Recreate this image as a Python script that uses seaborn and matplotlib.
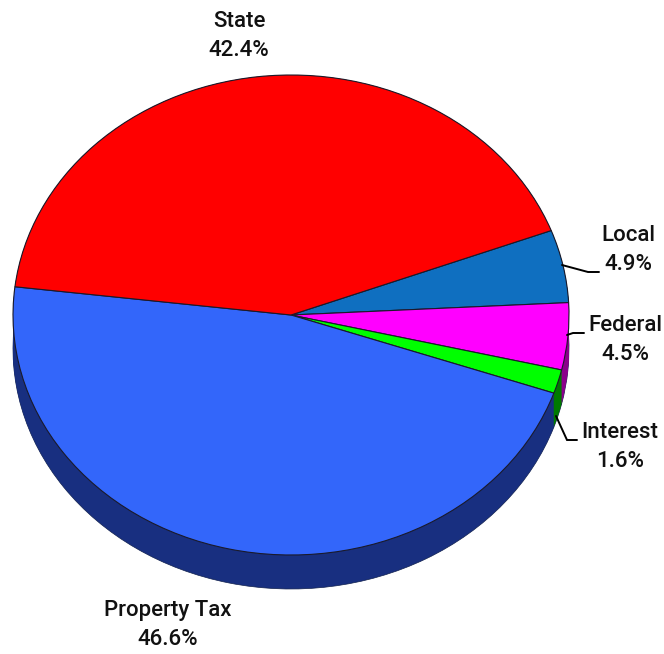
import numpy as np
import matplotlib
matplotlib.use("Agg")
import matplotlib.pyplot as plt
import seaborn as sns

# clockwise from the State / Local boundary
labels = ["Local", "Federal", "Interest", "Property Tax", "State"]
shares = [4.9, 4.5, 1.6, 46.6, 42.4]
top_colors = ["#0f6fc0", "#ff00ff", "#00ff00", "#3366fa", "#ff0000"]
side_colors = ["#0a4a80", "#8b008b", "#007a00", "#182f80", "#a00000"]

W, H = 664, 654
CX, CY = 291, 315    # centre of the top face, in pixels
RX, RY = 278, 240    # semi axes of the top face
DEPTH = 34

sns.set_theme(style="white")
plt.rcParams["font.family"] = ["Roboto", "DejaVu Sans"]

fig = plt.figure(figsize=(W / 100, H / 100), dpi=100)
ax = fig.add_axes([0, 0, 1, 1])


def px(x, y):
    return x / W, 1 - y / H


# side of the pie: the same pie stacked downwards
offsets = np.linspace(DEPTH / RY, 0, 36)
for i, off in enumerate(offsets):
    edge = {"edgecolor": "#10204d", "linewidth": 0.5} if i == 0 else {"linewidth": 0}
    ax.pie(shares, colors=side_colors, startangle=20.6, counterclock=False,
           center=(0, -off), radius=1, wedgeprops=edge)

ax.pie(shares, colors=top_colors, startangle=20.6, counterclock=False,
       center=(0, 0), radius=1,
       wedgeprops={"edgecolor": "#1a1a2a", "linewidth": 0.8})

# stretch the axes so the pie reads as a tilted ellipse
ax.set_aspect("auto")
ax.set_xlim(-CX / RX, (W - CX) / RX)
ax.set_ylim(-(H - CY) / RY, CY / RY)
ax.axis("off")

label_pos = [(628, 250), (625, 340), (620, 447), (168, 625), (239, 36)]
for name, val, (x, y) in zip(labels, shares, label_pos):
    tx, ty = px(x, y)
    ax.text(tx, ty, f"{name}\n{val:.1f}%", transform=ax.transAxes, ha="center",
            va="center", fontsize=16, fontweight="medium", color="#111111",
            linespacing=1.5)

# leader lines
leaders = [
    [(562, 265), (588, 272), (599, 272)],
    [(567, 335), (573, 333), (584, 333)],
    [(556, 416), (567, 440), (577, 440)],
]
for pts in leaders:
    xy = [px(a, b) for a, b in pts]
    ax.plot([p[0] for p in xy], [p[1] for p in xy], transform=ax.transAxes,
            color="black", lw=1.4, solid_joinstyle="miter", clip_on=False)

fig.savefig("out.png", dpi=100, facecolor="white")
